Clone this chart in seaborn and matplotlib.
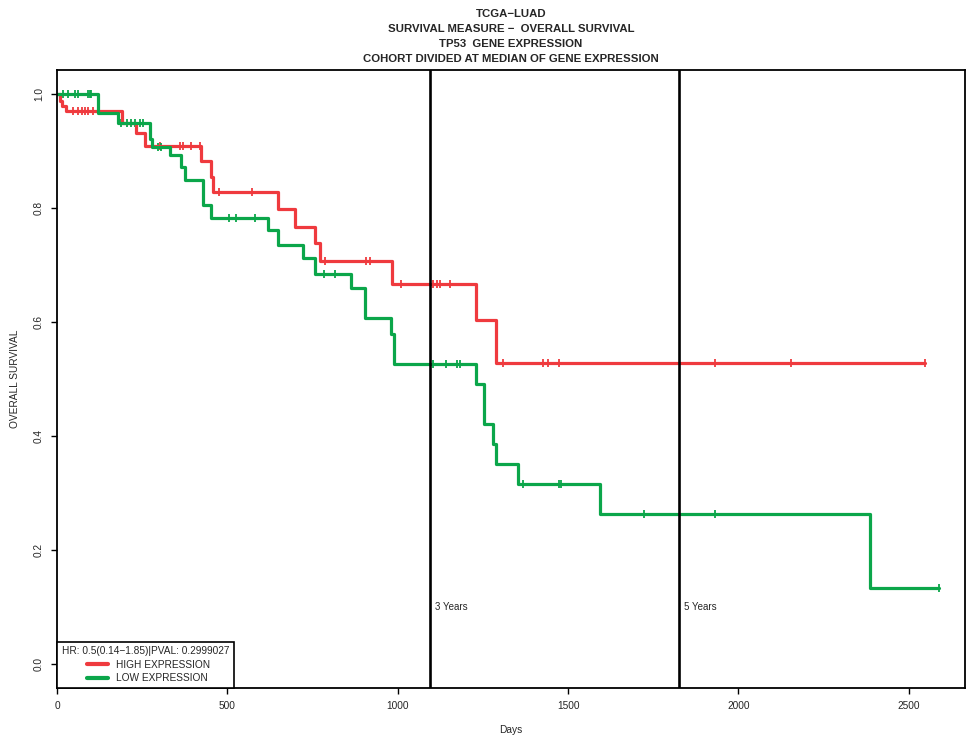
import matplotlib
matplotlib.use("Agg")
import matplotlib.pyplot as plt
from matplotlib.legend_handler import HandlerLine2D
import seaborn as sns

# Kaplan-Meier steps (days, survival)
high_times = [0, 8, 15, 25, 192, 233, 257, 424, 453, 458, 649, 698, 756, 771, 982, 1231, 1288, 2547]
high_surv = [1.0, 0.988, 0.979, 0.970, 0.950, 0.932, 0.909, 0.882, 0.855, 0.828, 0.798, 0.767,
             0.738, 0.708, 0.666, 0.604, 0.529, 0.529]
high_cens_t = [47, 62, 72, 81, 91, 106, 301, 360, 370, 394, 419, 476, 571, 786, 908, 920,
               1011, 1104, 1114, 1124, 1153, 1308, 1427, 1442, 1474, 1932, 2155, 2547]
high_cens_s = [0.970, 0.970, 0.970, 0.970, 0.970, 0.970, 0.909, 0.909, 0.909, 0.909, 0.909,
               0.828, 0.828, 0.708, 0.708, 0.708, 0.666, 0.666, 0.666, 0.666, 0.666,
               0.529, 0.529, 0.529, 0.529, 0.529, 0.529, 0.529]

low_times = [0, 120, 179, 272, 280, 331, 365, 375, 429, 453, 619, 649, 722, 756, 864, 905,
             981, 990, 1229, 1253, 1280, 1287, 1354, 1594, 2386, 2589]
low_surv = [1.0, 0.967, 0.950, 0.921, 0.908, 0.893, 0.873, 0.849, 0.805, 0.783, 0.761, 0.735,
            0.712, 0.684, 0.659, 0.607, 0.580, 0.527, 0.492, 0.421, 0.387, 0.351, 0.316,
            0.264, 0.133, 0.133]
low_cens_t = [18, 32, 52, 62, 91, 96, 101, 189, 204, 218, 228, 243, 252, 296, 306, 505, 525,
              580, 785, 815, 1104, 1141, 1174, 1184, 1369, 1472, 1479, 1724, 1932, 2589]
low_cens_s = [1.0, 1.0, 1.0, 1.0, 1.0, 1.0, 1.0, 0.950, 0.950, 0.950, 0.950, 0.950, 0.950,
              0.908, 0.908, 0.783, 0.783, 0.783, 0.684, 0.684, 0.527, 0.527, 0.527, 0.527,
              0.316, 0.316, 0.316, 0.264, 0.264, 0.133]

year_marks = [1095, 1825]
year_labels = ["3 Years", "5 Years"]

red = "#EF3A3E"
green = "#0BA64A"

sns.set_style("ticks")
plt.rcParams["font.family"] = ["Liberation Sans", "DejaVu Sans"]

fig = plt.figure(figsize=(9.66, 7.39), dpi=100)
ax = fig.add_axes([0.059, 0.069, 0.94, 0.836])

sns.lineplot(x=high_times, y=high_surv, drawstyle="steps-post", color=red, linewidth=2.3,
             estimator=None, sort=False, label="HIGH EXPRESSION", ax=ax)
sns.lineplot(x=low_times, y=low_surv, drawstyle="steps-post", color=green, linewidth=2.3,
             estimator=None, sort=False, label="LOW EXPRESSION", ax=ax)
sns.scatterplot(x=high_cens_t, y=high_cens_s, marker="|", s=40, linewidth=1.3, color=red,
                ax=ax, legend=False)
sns.scatterplot(x=low_cens_t, y=low_cens_s, marker="|", s=40, linewidth=1.3, color=green,
                ax=ax, legend=False)

for xm, lab in zip(year_marks, year_labels):
    ax.axvline(xm, color="black", linewidth=1.9)
    ax.text(xm + 15, 0.1, lab, fontsize=7, ha="left", va="center")

ax.set_xlim(0, 2665)
ax.set_ylim(-0.042, 1.042)
ax.set_xticks([0, 500, 1000, 1500, 2000, 2500])
ax.set_yticks([0.0, 0.2, 0.4, 0.6, 0.8, 1.0])
ax.set_yticklabels(["0.0", "0.2", "0.4", "0.6", "0.8", "1.0"])
for lbl in ax.get_yticklabels():
    lbl.set_rotation(90)
    lbl.set_va("center")
ax.tick_params(axis="both", labelsize=7.3, length=4.5, width=1, pad=5, color="black")
for sp in ax.spines.values():
    sp.set_visible(True)
    sp.set_color("black")
    sp.set_linewidth(1.3)

ax.set_xlabel("Days", fontsize=7.3, labelpad=10)
ax.set_ylabel("OVERALL SURVIVAL", fontsize=7.3, labelpad=10)
ax.set_title("TCGA\u2212LUAD\nSURVIVAL MEASURE \u2212  OVERALL SURVIVAL\nTP53  GENE EXPRESSION\n"
             "COHORT DIVIDED AT MEDIAN OF GENE EXPRESSION",
             fontsize=8.2, fontweight="bold", linespacing=1.6, pad=6)

leg = ax.legend(loc="lower left", borderaxespad=0, fancybox=False, framealpha=1,
                edgecolor="black", fontsize=7.3, title="HR: 0.5(0.14\u22121.85)|PVAL: 0.2999027",
                title_fontsize=7.3, handlelength=4.6, handletextpad=0.8, borderpad=0.45,
                labelspacing=0.35,
                handler_map={plt.Line2D: HandlerLine2D(xpad=2.5)})
leg.get_frame().set_linewidth(1.2)
leg._legend_box.align = "left"
for h in leg.get_lines():
    h.set_linewidth(3)

fig.savefig("out.png", dpi=100)
